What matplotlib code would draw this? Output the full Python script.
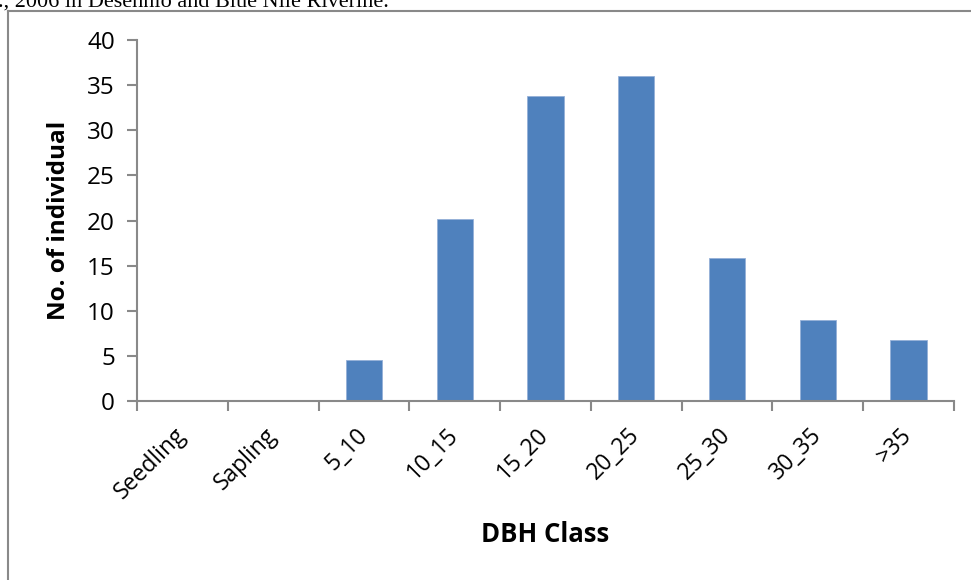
import matplotlib
matplotlib.use("Agg")
import matplotlib.pyplot as plt
from matplotlib.lines import Line2D

categories = ["Seedling", "Sapling", "5_10", "10_15", "15_20", "20_25", "25_30", "30_35", ">35"]
values = [0, 0, 4.5, 20.2, 33.8, 36.0, 15.8, 9.0, 6.75]
yticks = [0, 5, 10, 15, 20, 25, 30, 35, 40]

W, H = 971, 580
fig = plt.figure(figsize=(W / 100, H / 100), dpi=100)
fig.patch.set_facecolor("white")

font = "Open Sans"
gray = "#898989"

# outer chart frame (only left and top visible)
fig.add_artist(Line2D([8 / W, 8 / W], [0, 1 - 11 / H], transform=fig.transFigure, color=gray, lw=1.5))
fig.add_artist(Line2D([8 / W, 1], [1 - 11 / H, 1 - 11 / H], transform=fig.transFigure, color=gray, lw=1.5))

# cropped caption text at the top
fig.text(-2 / W, 1 - 7 / H, "., 2006 in Desehnio and Blue Nile Riverine.", family="Liberation Serif",
         fontsize=16, ha="left", va="baseline", color="black")

ax = fig.add_axes([137 / W, 1 - 401 / H, (954 - 137) / W, (401 - 40) / H])
x = list(range(len(categories)))
ax.bar(x, values, width=0.4, color="#4F81BD", edgecolor="#95B0D8", linewidth=0.6, zorder=2)

ax.set_xlim(-0.5, len(categories) - 0.5)
ax.set_ylim(0, 40)
ax.set_yticks(yticks)
ax.set_yticklabels([str(v) for v in yticks], family=font, fontsize=17.5)

ax.set_xticks([i - 0.5 for i in range(len(categories) + 1)])
ax.set_xticklabels([])
ax.set_xticks(x, minor=True)
ax.set_xticklabels(categories, minor=True, rotation=45, ha="right", va="center",
                   rotation_mode="anchor", family=font, fontsize=16.5)
ax.tick_params(axis="x", which="minor", length=0, pad=22)
ax.tick_params(axis="x", which="major", length=7, width=1.5, color=gray, direction="out")
ax.tick_params(axis="y", length=7, width=1.5, color=gray, direction="out", pad=9)

for s in ["top", "right"]:
    ax.spines[s].set_visible(False)
for s in ["left", "bottom"]:
    ax.spines[s].set_color(gray)
    ax.spines[s].set_linewidth(1.5)

ax.set_ylabel("No. of individual", family=font, fontsize=17.5, fontweight="bold")
ax.yaxis.set_label_coords((59 - 137) / (954 - 137), 0.5)
ax.set_xlabel("DBH Class", family=font, fontsize=18.5, fontweight="bold")
ax.xaxis.set_label_coords(0.5, -(535 - 401) / (401 - 40))
ax.xaxis.label.set_va("center")
ax.yaxis.label.set_va("center")

fig.savefig("out.png", dpi=100)
